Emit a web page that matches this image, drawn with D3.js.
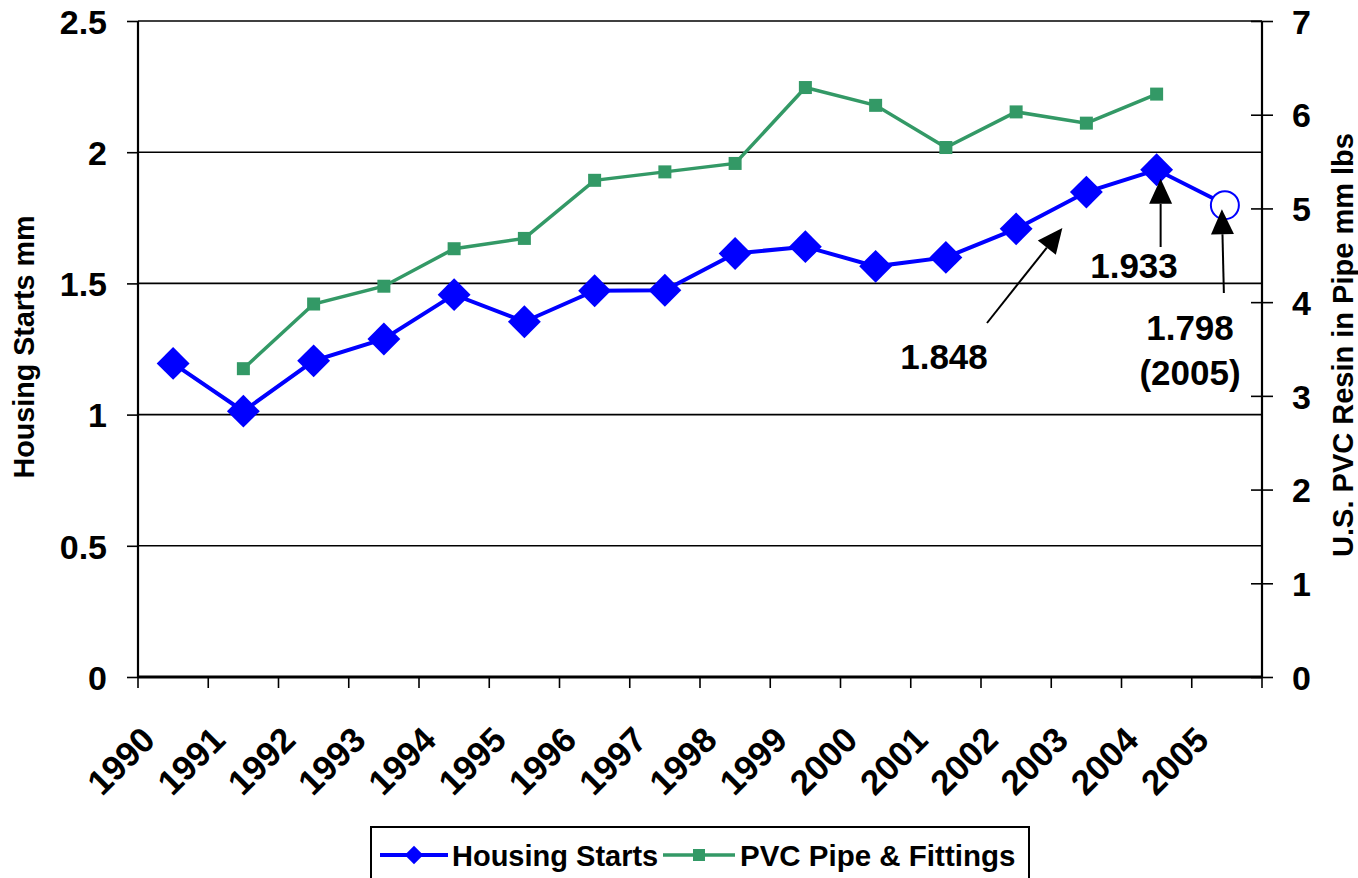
<!DOCTYPE html>
<html>
<head>
<meta charset="utf-8">
<script src="https://cdn.jsdelivr.net/npm/d3@7"></script>
<style>
  html, body { margin: 0; padding: 0; background: #fff; }
  svg { display: block; }
  text { font-family: "Liberation Sans", Arial, sans-serif; font-weight: bold; fill: #000; }
</style>
</head>
<body>
<svg id="chart" width="1358" height="878"></svg>
<script>
// ---- data ----
const years = ["1990","1991","1992","1993","1994","1995","1996","1997","1998","1999","2000","2001","2002","2003","2004","2005"];
const housingStarts = [1.195, 1.013, 1.205, 1.288, 1.457, 1.354, 1.472, 1.474, 1.614, 1.640, 1.565, 1.599, 1.708, 1.848, 1.933, 1.798];
const pvcPipe = [null, 3.29, 3.98, 4.17, 4.57, 4.68, 5.30, 5.39, 5.48, 6.29, 6.10, 5.65, 6.03, 5.91, 6.22, null];
const leftTicks = [0, 0.5, 1, 1.5, 2, 2.5];
const rightTicks = [0, 1, 2, 3, 4, 5, 6, 7];
const annotations = [
  { year: "2003", value: 1.848, lines: ["1.848"] },
  { year: "2004", value: 1.933, lines: ["1.933"] },
  { year: "2005", value: 1.798, lines: ["1.798", "(2005)"] }
];
const seriesNames = ["Housing Starts", "PVC Pipe & Fittings"];

// ---- layout ----
const L = 138, R = 1262, T = 21, B = 677;
const BLUE = "#0000FF", GREEN = "#339966";

const svg = d3.select("#chart");

const x = d3.scaleBand().domain(years).range([L, R]).padding(0);
const cx = d => x(d) + x.bandwidth() / 2;
const yL = d3.scaleLinear().domain([0, 2.5]).range([B, T]);
const yR = d3.scaleLinear().domain([0, 7]).range([B, T]);

// gridlines
svg.append("g").selectAll("line").data(leftTicks.filter(v => v > 0)).join("line")
  .attr("x1", L).attr("x2", R)
  .attr("y1", d => yL(d)).attr("y2", d => yL(d))
  .attr("stroke", "#000").attr("stroke-width", 1.6);

// left axis
const leftAxis = d3.axisLeft(yL).tickValues(leftTicks).tickSize(11).tickPadding(20)
  .tickFormat(d => String(d));
const gL = svg.append("g").attr("transform", `translate(${L},0)`).call(leftAxis);
gL.select(".domain").remove();
gL.selectAll(".tick line").attr("stroke", "#000").attr("stroke-width", 1.6);
gL.selectAll(".tick text").style("font-size", "34px").attr("dy", "0.36em");
svg.append("line").attr("x1", L).attr("x2", L).attr("y1", T).attr("y2", B)
  .attr("stroke", "#000").attr("stroke-width", 2.2);

// right axis
const rightAxis = d3.axisRight(yR).tickValues(rightTicks).tickSize(11).tickPadding(19)
  .tickFormat(d => String(d));
const gR = svg.append("g").attr("transform", `translate(${R},0)`).call(rightAxis);
gR.select(".domain").remove();
gR.selectAll(".tick line").attr("x1", -11).attr("x2", 11)
  .attr("stroke", "#000").attr("stroke-width", 1.6);
gR.selectAll(".tick text").style("font-size", "34px").attr("dy", "0.36em");
svg.append("line").attr("x1", R).attr("x2", R).attr("y1", T).attr("y2", B)
  .attr("stroke", "#000").attr("stroke-width", 2.2);

// bottom axis: ticks at band boundaries
const bounds = years.map(y => x(y)).concat([R]);
svg.append("g").selectAll("line").data(bounds).join("line")
  .attr("x1", d => d).attr("x2", d => d).attr("y1", B).attr("y2", B + 11)
  .attr("stroke", "#000").attr("stroke-width", 1.6);
svg.append("line").attr("x1", L).attr("x2", R).attr("y1", B).attr("y2", B)
  .attr("stroke", "#000").attr("stroke-width", 3);

// x labels rotated
svg.append("g").selectAll("text").data(years).join("text")
  .attr("transform", d => `translate(${cx(d) - 16},742) rotate(-45)`)
  .attr("text-anchor", "end")
  .style("font-size", "35px")
  .text(d => d);

// axis titles
svg.append("text")
  .attr("transform", `translate(34,347) rotate(-90)`)
  .attr("text-anchor", "middle").style("font-size", "28.7px")
  .text("Housing Starts mm");
svg.append("text")
  .attr("transform", `translate(1353,345) rotate(-90)`)
  .attr("text-anchor", "middle").style("font-size", "29px")
  .text("U.S. PVC Resin in Pipe mm lbs");

// PVC series
const pvcData = years.map((y, i) => ({ y, v: pvcPipe[i] })).filter(d => d.v !== null);
svg.append("path").datum(pvcData)
  .attr("fill", "none").attr("stroke", GREEN).attr("stroke-width", 3.5)
  .attr("d", d3.line().x(d => cx(d.y)).y(d => yR(d.v)));
svg.append("g").selectAll("rect").data(pvcData).join("rect")
  .attr("x", d => cx(d.y) - 6.5).attr("y", d => yR(d.v) - 6.5)
  .attr("width", 13).attr("height", 13).attr("fill", GREEN);

// Housing series
const hsData = years.map((y, i) => ({ y, v: housingStarts[i], i }));
svg.append("path").datum(hsData)
  .attr("fill", "none").attr("stroke", BLUE).attr("stroke-width", 4)
  .attr("d", d3.line().x(d => cx(d.y)).y(d => yL(d.v)));
const diamond = d3.symbol().type(d3.symbolSquare).size(540);
svg.append("g").selectAll("path").data(hsData.slice(0, -1)).join("path")
  .attr("transform", d => `translate(${cx(d.y)},${yL(d.v)}) rotate(45)`)
  .attr("d", diamond).attr("fill", BLUE);
const last = hsData[hsData.length - 1];
svg.append("circle").attr("cx", cx(last.y) - 2).attr("cy", yL(last.v)).attr("r", 14)
  .attr("fill", "#fff").attr("stroke", BLUE).attr("stroke-width", 2);

// annotations with arrows
function arrow(x1, y1, x2, y2) {
  const ang = Math.atan2(y2 - y1, x2 - x1);
  const len = 25, hw = 11.5;
  const bx = x2 - len * Math.cos(ang), by = y2 - len * Math.sin(ang);
  svg.append("line").attr("x1", x1).attr("y1", y1).attr("x2", bx).attr("y2", by)
    .attr("stroke", "#000").attr("stroke-width", 2);
  const px = -Math.sin(ang) * hw, py = Math.cos(ang) * hw;
  svg.append("path")
    .attr("d", `M${x2},${y2}L${bx + px},${by + py}L${bx - px},${by - py}Z`)
    .attr("fill", "#000");
}
const a0 = annotations[0], a1 = annotations[1], a2 = annotations[2];
// 1.848
arrow(987, 323, cx(a0.year) - 24, yL(a0.value) + 36);
svg.append("text").attr("x", 944).attr("y", 369).attr("text-anchor", "middle")
  .style("font-size", "35px").text(a0.lines[0]);
// 1.933
arrow(cx(a1.year) + 4, 247, cx(a1.year) + 4, yL(a1.value) + 9);
svg.append("text").attr("x", 1134).attr("y", 278).attr("text-anchor", "middle")
  .style("font-size", "35px").text(a1.lines[0]);
// 1.798 (2005)
arrow(cx(a2.year) - 3, 293, cx(a2.year) - 5, yL(a2.value) + 4);
svg.append("text").attr("x", 1190).attr("y", 340).attr("text-anchor", "middle")
  .style("font-size", "35px").text(a2.lines[0]);
svg.append("text").attr("x", 1190).attr("y", 385).attr("text-anchor", "middle")
  .style("font-size", "35px").text(a2.lines[1]);

// legend
const lg = svg.append("g");
lg.append("rect").attr("x", 371).attr("y", 827).attr("width", 658).attr("height", 70)
  .attr("fill", "#fff").attr("stroke", "#000").attr("stroke-width", 2);
const ly = 855;
lg.append("line").attr("x1", 380).attr("x2", 448).attr("y1", ly).attr("y2", ly)
  .attr("stroke", BLUE).attr("stroke-width", 4);
lg.append("path").attr("transform", `translate(414,${ly}) rotate(45)`)
  .attr("d", d3.symbol().type(d3.symbolSquare).size(170)).attr("fill", BLUE);
lg.append("text").attr("x", 452).attr("y", ly + 11).style("font-size", "29px").text(seriesNames[0]);
lg.append("line").attr("x1", 663).attr("x2", 735).attr("y1", ly).attr("y2", ly)
  .attr("stroke", GREEN).attr("stroke-width", 3.5);
lg.append("rect").attr("x", 699 - 6).attr("y", ly - 6).attr("width", 12).attr("height", 12).attr("fill", GREEN);
lg.append("text").attr("x", 740).attr("y", ly + 11).style("font-size", "29.5px").text(seriesNames[1]);
</script>
</body>
</html>
